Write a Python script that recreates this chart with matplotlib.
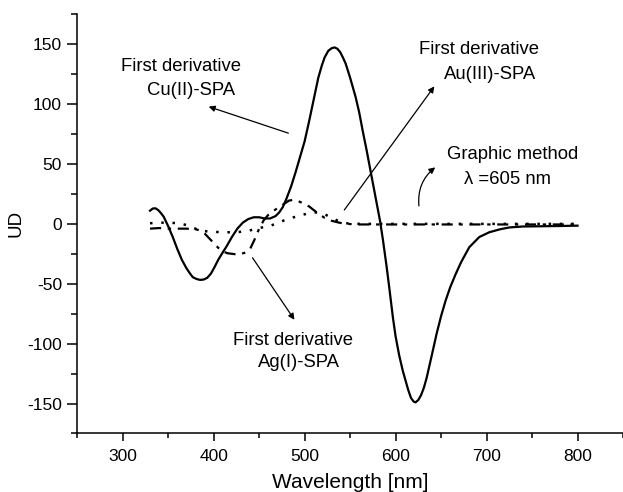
import numpy as np
import matplotlib
matplotlib.use('Agg')
import matplotlib.pyplot as plt
from matplotlib.ticker import MultipleLocator

plt.rcParams['font.family'] = ['Liberation Sans', 'DejaVu Sans']
plt.rcParams['axes.unicode_minus'] = False

# Cu(II)-SPA first derivative (solid)
cu_x = [330, 333, 336, 339, 342, 345, 350, 355, 360, 365, 370, 374, 377, 381, 385,
        389, 393, 397, 401, 405, 409, 414, 420, 426, 432, 438, 444, 450, 456, 462,
        468, 472, 476, 480, 485, 490, 495, 500, 505, 510, 515, 519, 522, 526, 530,
        533, 536, 539, 542, 545, 550, 556, 560, 564, 568, 571, 574, 577, 580, 583,
        586, 590, 593, 597, 600, 604, 608, 611, 614, 617, 620, 622, 625, 628, 631,
        634, 637, 640, 645, 650, 655, 660, 666, 672, 681, 692, 703, 715, 725, 740,
        760, 780, 800]
cu_y = [11, 12.8, 13, 11.5, 9, 6, -2, -11, -21, -30, -37, -41.5, -44.5, -46, -46.8,
        -46.5, -45, -41.5, -36, -30, -25, -19, -11, -4, 1, 4, 5.5, 5.5, 4.5, 4.5,
        6.5, 9.5, 14, 21, 31, 43, 56, 69, 86, 104, 122, 132.5, 139, 144.5, 146.8,
        147.3, 146.2, 143.5, 139, 134, 122, 106, 93, 77, 62, 50, 38, 26, 14, 2,
        -13, -35, -53, -78, -94, -110, -123, -131, -139, -145.5, -148.5, -149, -147, -143, -137,
        -129, -119, -109, -92, -77, -64, -53, -42, -32, -19.5, -11, -7, -4.5, -3, -2.2,
        -2, -1.8, -1.5]

# Ag(I)-SPA first derivative (dash-dot)
ag_x = [330, 340, 350, 360, 370, 380, 385, 390, 395, 400, 405, 410, 415, 420, 425,
        430, 435, 440, 445, 450, 455, 460, 468, 475, 483, 488, 493, 500, 505, 510,
        516, 522, 530, 538, 545, 560, 600, 650, 700, 750, 800]
ag_y = [-4, -3.5, -4, -4, -4, -4.5, -5.5, -8, -12, -16, -20, -23, -24.5, -25, -25.5,
        -25, -24, -21, -13, -4, 3, 7.5, 12, 15.5, 19.5, 20, 19, 16.5, 14.5, 11.5,
        8, 5, 2.5, 1, 0, -0.5, -0.5, -0.5, -0.5, -0.5, -0.5]

# Au(III)-SPA first derivative (dotted)
au_x = [330, 340, 350, 362, 370, 378, 385, 395, 410, 425, 437, 450, 463, 472, 480,
        490, 500, 510, 516, 522, 530, 538, 545, 560, 600, 700, 800]
au_y = [0.5, 1, 1, 0.5, -1, -3.5, -5.5, -6.5, -7, -7, -6, -3.5, -1.5, 1.5, 3.5,
        6, 8, 9.5, 9.5, 8, 5, 2, 0.5, 0, 0, 0, 0]

fig = plt.figure(figsize=(6.23, 4.92), dpi=100)
ax = fig.add_axes([0.124, 0.119, 0.876, 0.852])

ax.plot(cu_x, cu_y, color='black', lw=1.6, solid_joinstyle='round')
ax.plot(ag_x, ag_y, color='black', lw=1.6, linestyle=(0, (5, 3, 1.5, 3)))
ax.plot(au_x, au_y, color='black', lw=1.8, linestyle=(0, (1, 3.5)))

ax.set_xlim(250, 850)
ax.set_ylim(-175, 175)
ax.xaxis.set_major_locator(MultipleLocator(100))
ax.xaxis.set_minor_locator(MultipleLocator(50))
ax.yaxis.set_major_locator(MultipleLocator(50))
ax.yaxis.set_minor_locator(MultipleLocator(25))

for s in ['top', 'right']:
    ax.spines[s].set_visible(False)
for s in ['left', 'bottom']:
    ax.spines[s].set_linewidth(1.1)

ax.tick_params(axis='x', which='major', direction='out', length=6, width=1.1,
               labelsize=12.5, pad=5)
ax.tick_params(axis='x', which='minor', direction='out', length=3.6, width=1.1)
ax.tick_params(axis='y', which='major', direction='out', length=7.5, width=1.1, labelsize=12.5)
ax.tick_params(axis='y', which='minor', direction='out', length=4.5, width=1.1)

ax.set_xlabel('Wavelength [nm]', fontsize=15, labelpad=7)
ax.set_ylabel('UD', fontsize=13.5, labelpad=2)

fs = 13.3
arrow = dict(arrowstyle='-|>', color='black', lw=0.9, mutation_scale=9)

# Cu label
ax.text(298, 127.8, 'First derivative', fontsize=fs)
ax.text(326.8, 107.5, 'Cu(II)-SPA', fontsize=fs)
ax.annotate('', xy=(391.6, 98.6), xytext=(485, 75), arrowprops=arrow)

# Au label
ax.text(625.3, 141.7, 'First derivative', fontsize=fs)
ax.text(652.7, 120.8, 'Au(III)-SPA', fontsize=fs)
ax.annotate('', xy=(644.4, 116.7), xytext=(541.8, 9.7), arrowprops=arrow)

# Graphic method
ax.text(656.5, 54.2, 'Graphic method', fontsize=fs)
ax.text(675.5, 33.3, '\u03bb =605 nm', fontsize=fs)
ax.annotate('', xy=(646, 48.6), xytext=(626, 12.7),
            arrowprops=dict(arrowstyle='-|>', color='black', lw=0.9, mutation_scale=9,
                            connectionstyle='arc3,rad=-0.3'))

# Ag label
ax.text(420.9, -101.4, 'First derivative', fontsize=fs)
ax.text(448.4, -119.5, 'Ag(I)-SPA', fontsize=fs)
ax.annotate('', xy=(490.5, -82), xytext=(441, -26.4), arrowprops=arrow)

fig.savefig('out.png', dpi=100)
